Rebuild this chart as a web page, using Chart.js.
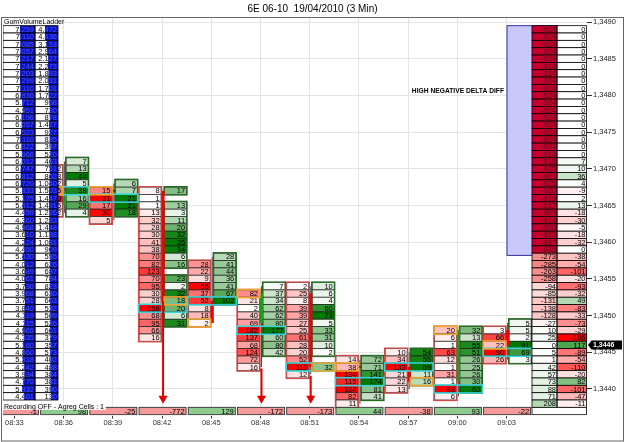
<!DOCTYPE html>
<html><head><meta charset="utf-8">
<script src="https://cdn.jsdelivr.net/npm/chart.js@4.4.1/dist/chart.umd.min.js"></script>
<style>html,body{margin:0;padding:0;background:#fff;}canvas{display:block;}</style>
</head><body>
<canvas id="c" width="625" height="442"></canvas>
<script>
const TITLE = '6E 06-10  19/04/2010 (3 Min)';
const timeLabels = ['08:33','08:36','08:39','08:42','08:45','08:48','08:51','08:54','08:57','09:00','09:03'];
const priceTicks = [1.3490,1.3485,1.3480,1.3475,1.3470,1.3465,1.3460,1.3455,1.3450,1.3445,1.3440];
const priceTickLabels = ['1,3490','1,3485','1,3480','1,3475','1,3470','1,3465','1,3460','1,3455','1,3450','1,3445','1,3440'];
const TICK = 0.0001;

// footprint bars (index into timeLabels); volumes listed from the top price downwards
const barIdx = [1,2,3,4,5,6,7,8,9,10];
const bidTop = [1.3470,1.3467,1.3467,1.3457,1.3453,1.3454,1.3444,1.3445,1.3448,1.3448];
const bidVol = [
  [2,3,2,15,30,5,2],
  [15,31,17,30,5],
  [8,1,1,13,32,28,30,41,38,70,82,123,70,95,30,28,158,68,95,66,16],
  [28,22,9,66,37,52,8,18,2],
  [82,21,2,40,69,182,137,68,124,72,16],
  [2,25,8,39,39,27,25,61,28,20,52,111,12],
  [14,38,134,115,134,82,11],
  [10,34,133,21,22,13],
  [20,6,1,63,12,1,31,1,88,6],
  [3,66,22,90,26]
];
const askTop = [1.3471,1.3468,1.3467,1.3458,1.3454,1.3454,1.3444,1.3445,1.3448,1.3449];
const askVol = [
  [7,13,44,5,39,16,29,4],
  [6,7,21,21,18],
  [17,null,13,3,11,20,32,35,34,6,16,null,23,2,32,18,20,6,31],
  [28,41,44,36,41,67,102],
  [7,37,34,62,62,80,177,60,80,42],
  [10,6,4,60,73,5,33,31,10,2,null,32],
  [72,71,141,174,81,41],
  [54,55,59,11,16],
  [32,13,55,51,26,25,26,30,62],
  [5,5,2,91,69,3]
];
const pocPrice    = [1.3467,1.3466,1.3451,1.3452,1.3448,1.3443,1.3441,1.3443,1.3440,1.3445];
const closeSide   = ['bid','bid','ask','bid','bid','ask','bid','ask','bid','bid'];
const candleOpen  = [1.3465,1.3467,1.3467,1.3452,1.3449,1.3453,1.3443,1.3443,1.3441,1.3448];
const candleHigh  = [1.3471,1.3468,1.3467,1.3458,1.3454,1.3454,1.3444,1.3445,1.3448,1.3449];
const candleLow   = [1.3464,1.3463,1.3447,1.3449,1.3443,1.3442,1.3438,1.3440,1.3439,1.3444];
const candleClose = [1.3467,1.3467,1.3452,1.3449,1.3453,1.3443,1.3443,1.3441,1.3448,1.3446];

// signal arrows
const arrowIdx  = [3,5,6];
const arrowFrom = [1.3452,1.34428,1.34418];
const arrowTip  = 1.3438;

// bar delta row
const deltaRowPrice = 1.3437;
const deltaValues = [-1,98,-25,-772,129,-172,-173,44,-38,93,-22];

// left volume ladder (from top price downwards)
const ladderTop = 1.3489;
const ladderTotal = [7259,7110,7085,7057,7217,7244,7203,7299,7110,6936,5712,4951,6196,6057,6523,7110,6322,5966,6012,6747,6812,6720,5833,5175,5412,4459,4360,4968,3610,4224,4450,5430,4012,3689,4061,3730,3968,3751,3840,4119,4115,4965,4335,5160,4860,5318,4242,3934,4770,5832,4461];
const ladderVol = [4472,4436,3153,2964,2127,2273,1893,2031,1701,1722,958,730,878,1427,927,835,397,520,463,751,862,1040,1503,1447,1491,1226,1233,1448,1138,1081,909,555,626,687,784,823,630,663,532,509,526,661,379,357,573,402,488,384,381,390,130];

// right delta ladder (from top price downwards)
const rightTop = 1.3489;
const rightCum = [-924,-924,-924,-924,-924,-924,-924,-924,-924,-924,-924,-924,-924,-924,-924,-924,-924,-924,
  -918,-925,-901,-925,-920,-919,-927,-909,-914,-906,-882,-887,-645,-273,-285,-263,-258,-94,-85,-131,-138,-128,-27,10,25,0,5,1,42,57,73,88,71,208];
const rightDelta = [0,0,0,0,0,0,0,0,0,0,0,0,0,0,0,0,0,0,
  7,10,36,4,-9,2,13,-18,-30,-5,-18,-32,0,-38,-54,-101,-20,-93,-32,49,-83,-33,-73,-29,-166,117,-89,-54,-110,-20,82,-101,-47,-11];
const highDiffTop = 1.3489, highDiffBottom = 1.34582;
const highDiffText = 'HIGH NEGATIVE DELTA DIFF';
const highDiffTextPrice = 1.34806;

const lastPrice = 1.3446, lastPriceLabel = '1,3446';
const ladderName = 'GomVolumeLadder';
const statusText = 'Recording OFF - Agreg Cells : 1';

const FAM = '"Liberation Sans", Arial, sans-serif';
function mix(c, t){ t=Math.max(0,Math.min(1,t)); return 'rgb('+Math.round(255+(c[0]-255)*t)+','+Math.round(255+(c[1]-255)*t)+','+Math.round(255+(c[2]-255)*t)+')'; }
function fmt(v){ const s=String(Math.abs(v)).replace(/\B(?=(\d{3})+(?!\d))/g,'.'); return (v<0?'-':'')+s; }

const fp = {
  id:'fp',
  afterDatasetsDraw(chart){
    const ctx=chart.ctx, xs=chart.scales.x, ys=chart.scales.y, ca=chart.chartArea;
    const X = i => xs.getPixelForValue(i);
    const Y = p => ys.getPixelForValue(p);
    const rowH = Y(1.3440)-Y(1.3441), h2=rowH/2;
    const FONT = '7.5px '+FAM;
    ctx.save();
    ctx.beginPath(); ctx.rect(ca.left, ca.top, ca.right-ca.left, ca.bottom-ca.top); ctx.clip();
    ctx.textAlign='right'; ctx.textBaseline='middle'; ctx.font=FONT;

    // footprint cells
    const colsOf = k => { const t=X(barIdx[k]); return {
      bid:{x0:t-23, x1:t-1, top:bidTop[k], vals:bidVol[k], rgb:[255,0,0], edge:'#cf4a4a'},
      ask:{x0:t+2.5, x1:t+24.5, top:askTop[k], vals:askVol[k], rgb:[0,122,0], edge:'#236b23'} }; };
    barIdx.forEach((bi,k)=>{
      const cc = colsOf(k);
      [cc.bid, cc.ask].forEach(c=>{
        const mx = Math.max(...c.vals.filter(v=>v!=null));
        c.vals.forEach((v,j)=>{
          if(v==null) return;
          const yc=Y(c.top-j*TICK);
          ctx.fillStyle=mix(c.rgb, v/mx);
          ctx.fillRect(c.x0, yc-h2, c.x1-c.x0, rowH);
          ctx.strokeStyle='rgba(25,25,25,0.85)'; ctx.lineWidth=0.8;
          ctx.strokeRect(c.x0, yc-h2, c.x1-c.x0, rowH);
          ctx.fillStyle='#000'; ctx.fillText(String(v), c.x1-1.5, yc+0.5);
        });
        let j=0; const n=c.vals.length;
        while(j<n){
          if(c.vals[j]==null){j++;continue;}
          let e=j; while(e+1<n && c.vals[e+1]!=null) e++;
          const ya=Y(c.top-j*TICK)-h2, yb=Y(c.top-e*TICK)+h2;
          ctx.strokeStyle=c.edge; ctx.lineWidth=1.3;
          ctx.strokeRect(c.x0-0.5, ya-0.5, c.x1-c.x0+1, yb-ya+1);
          j=e+1;
        }
      });
    });
    // candles
    barIdx.forEach((bi,k)=>{
      const t=X(bi);
      ctx.strokeStyle='#4a4a4a'; ctx.lineWidth=1;
      ctx.beginPath(); ctx.moveTo(t+1, Y(candleHigh[k])); ctx.lineTo(t+1, Y(candleLow[k])); ctx.stroke();
      const yo=Y(candleOpen[k]), yc=Y(candleClose[k]);
      const top=Math.min(yo,yc), hh=Math.max(Math.abs(yo-yc),1.5);
      ctx.fillStyle = candleClose[k]<candleOpen[k] ? '#f00000' : (candleClose[k]>candleOpen[k] ? '#1e9a1e' : '#333');
      ctx.fillRect(t-0.5, top-(hh===1.5?0.75:0), 3, hh);
    });
    // POC and close highlights
    barIdx.forEach((bi,k)=>{
      const cc=colsOf(k);
      const yp=Y(pocPrice[k]);
      ctx.strokeStyle='#3ad3d8'; ctx.lineWidth=1.6;
      ctx.strokeRect(cc.bid.x0-0.5, yp-h2-0.3, cc.ask.x1-cc.bid.x0+1, rowH+0.6);
      const c = cc[closeSide[k]], yq=Y(candleClose[k]);
      ctx.strokeStyle='#f0a630'; ctx.lineWidth=1.6;
      ctx.strokeRect(c.x0-0.3, yq-h2-0.3, c.x1-c.x0+0.6, rowH+0.6);
    });
    // arrows
    arrowIdx.forEach((ai,k)=>{
      const x=X(ai)+1, y0=Y(arrowFrom[k]), yt=Y(arrowTip);
      ctx.strokeStyle='#e00000'; ctx.lineWidth=2;
      ctx.beginPath(); ctx.moveTo(x,y0); ctx.lineTo(x,yt-7); ctx.stroke();
      ctx.fillStyle='#e00000';
      ctx.beginPath(); ctx.moveTo(x-4.5,yt-8); ctx.lineTo(x+4.5,yt-8); ctx.lineTo(x,yt); ctx.closePath(); ctx.fill();
    });
    // delta row
    deltaValues.forEach((v,i)=>{
      const t=X(i), yc=Y(deltaRowPrice);
      ctx.fillStyle = v<0 ? '#f49a9a' : '#8fca8f';
      ctx.fillRect(t-23, yc-h2, 47, rowH);
      ctx.strokeStyle='#333'; ctx.lineWidth=0.9; ctx.strokeRect(t-23, yc-h2, 47, rowH);
      ctx.fillStyle='#000'; ctx.fillText(String(v), t+22.5, yc+0.5);
    });

    // left volume ladder
    const L0=ca.left, Lm=ca.left+32, L1=ca.left+55;
    const mT=Math.max(...ladderTotal), mV=Math.max(...ladderVol);
    ladderTotal.forEach((v,j)=>{
      const yc=Y(ladderTop-j*TICK), y0=yc-h2;
      ctx.fillStyle='#fff'; ctx.fillRect(L0,y0,L1-L0,rowH);
      const tl=fmt(v), tr=fmt(ladderVol[j]);
      ctx.fillStyle='#000'; ctx.fillText(tl, Lm-1, yc+0.5); ctx.fillText(tr, L1-1, yc+0.5);
      const wl=5+10*v/mT, wr=7+6*ladderVol[j]/mV;
      ctx.fillStyle='#0a0fc4';
      ctx.fillRect(Lm-wl, y0, wl, rowH); ctx.fillRect(L1-wr, y0, wr, rowH);
      ctx.save(); ctx.beginPath(); ctx.rect(Lm-wl,y0,wl,rowH); ctx.rect(L1-wr,y0,wr,rowH); ctx.clip();
      ctx.fillStyle='#4a56e6'; ctx.fillText(tl, Lm-1, yc+0.5); ctx.fillText(tr, L1-1, yc+0.5);
      ctx.restore();
      ctx.strokeStyle='#000'; ctx.lineWidth=0.8;
      ctx.strokeRect(L0,y0,Lm-L0,rowH); ctx.strokeRect(Lm,y0,L1-Lm,rowH);
    });

    // right ladder
    const R1=ca.right, Rm=R1-30, R0=R1-55, B0=R1-80;
    const by0=Y(highDiffTop)-h2, by1=Y(highDiffBottom);
    ctx.fillStyle='#c8c8fa'; ctx.fillRect(B0,by0,Rm-B0,by1-by0);
    ctx.strokeStyle='#34349a'; ctx.lineWidth=1; ctx.strokeRect(B0,by0,Rm-B0,by1-by0);
    const mD=Math.max(...rightDelta.map(Math.abs));
    rightCum.forEach((a,j)=>{
      const yc=Y(rightTop-j*TICK), y0=yc-h2;
      let fa;
      if(a<=-600) fa='#c8002e'; else if(a<0) fa=mix([240,40,40],-a/500); else fa=mix([0,128,0],a/700);
      ctx.fillStyle=fa; ctx.fillRect(R0,y0,Rm-R0,rowH);
      const d=rightDelta[j];
      ctx.fillStyle = d<0 ? mix([255,0,0],-d/mD) : mix([0,128,0],d/mD);
      ctx.fillRect(Rm,y0,R1-Rm,rowH);
      ctx.strokeStyle='#000'; ctx.lineWidth=0.8;
      ctx.strokeRect(R0,y0,Rm-R0,rowH); ctx.strokeRect(Rm,y0,R1-Rm-0.5,rowH);
      ctx.fillStyle = a<=-600 ? '#6a0018' : '#000';
      ctx.fillText(fmt(a), Rm-1, yc+0.5);
      ctx.fillStyle='#000'; ctx.fillText(fmt(d), R1-1.5, yc+0.5);
    });
    {
      const yc=Y(deltaRowPrice);
      ctx.fillStyle='#fff'; ctx.fillRect(R0,yc-h2,R1-R0,rowH);
      ctx.strokeStyle='#000'; ctx.lineWidth=0.8; ctx.strokeRect(R0,yc-h2,R1-R0-0.5,rowH);
    }
    // annotation texts
    ctx.font='bold 6.7px '+FAM; ctx.fillStyle='#000'; ctx.textAlign='right';
    ctx.fillText(highDiffText, B0-3, Y(highDiffTextPrice));
    ctx.font='7px '+FAM; ctx.textAlign='left';
    ctx.fillText(ladderName, L0+1, Y(ladderTop+TICK)+0.5);
    const sy=Y(deltaRowPrice)-rowH*0.62, sw=ctx.measureText(statusText).width;
    ctx.fillStyle='rgba(255,255,255,0.92)'; ctx.fillRect(L0, sy-3.8, sw+3, 7.2);
    ctx.fillStyle='#000'; ctx.fillText(statusText, L0+1, sy+0.3);
    ctx.restore();

    // title, frame, last price tag
    ctx.save();
    ctx.font='10px '+FAM; ctx.fillStyle='#000'; ctx.textAlign='center'; ctx.textBaseline='middle';
    ctx.fillText(TITLE, chart.width/2, 9);
    ctx.strokeStyle='#666'; ctx.lineWidth=1;
    ctx.strokeRect(1.5, ca.top+0.5, chart.width-3, chart.height-ca.top-1.5);
    const yl=Y(lastPrice);
    ctx.fillStyle='#000';
    ctx.beginPath(); ctx.moveTo(ca.right+1,yl); ctx.lineTo(ca.right+4.5,yl-4.5); ctx.lineTo(chart.width-3,yl-4.5);
    ctx.lineTo(chart.width-3,yl+4.5); ctx.lineTo(ca.right+4.5,yl+4.5); ctx.closePath(); ctx.fill();
    ctx.fillStyle='#fff'; ctx.font='bold 7px '+FAM; ctx.textAlign='left';
    ctx.fillText(lastPriceLabel, ca.right+6, yl+0.5);
    ctx.restore();
  }
};

const PX_X = 49.22, X0PX = 11.4;       // first time tick sits 11.4px right of plot edge
const PLOT_W = 584, PLOT_H = 398.5, PX_ROW = 7.34;
const xMin = -X0PX/PX_X, xMax = xMin + PLOT_W/PX_X;
const yMax = 1.3490 + 5/PX_ROW*TICK, yMin = yMax - PLOT_H/PX_ROW*TICK;

new Chart(document.getElementById('c'), {
  type:'scatter',
  data:{datasets:[{data:[], pointRadius:0}]},
  options:{
    responsive:false, animation:false, devicePixelRatio:1,
    layout:{padding:{left:3, top:17, right:0, bottom:0}},
    plugins:{legend:{display:false}, tooltip:{enabled:false}, title:{display:false}},
    scales:{
      x:{type:'linear', position:'bottom', min:xMin, max:xMax,
        afterBuildTicks:s=>{ s.ticks = timeLabels.map((_,i)=>({value:i})); },
        afterFit:s=>{ s.height = 442-17-PLOT_H; },
        ticks:{callback:(v)=>timeLabels[Math.round(v)]||'', font:{size:7.5, family:FAM}, color:'#333', padding:0, autoSkip:false, maxRotation:0},
        grid:{color:'#e4e4e4', tickColor:'#333', tickLength:3},
        border:{display:false}},
      y:{type:'linear', position:'right', min:yMin, max:yMax,
        afterBuildTicks:s=>{ s.ticks = priceTicks.map(v=>({value:v})); },
        afterFit:s=>{ s.width = 625-3-PLOT_W; },
        ticks:{callback:(v)=>{ const i=priceTicks.findIndex(p=>Math.abs(p-v)<1e-7); return i>=0?priceTickLabels[i]:''; }, font:{size:7.5, family:FAM}, color:'#222', padding:1, autoSkip:false},
        grid:{color:'#e4e4e4', tickColor:'#333', tickLength:5},
        border:{display:false}}
    }
  },
  plugins:[fp]
});
</script>
</body></html>
